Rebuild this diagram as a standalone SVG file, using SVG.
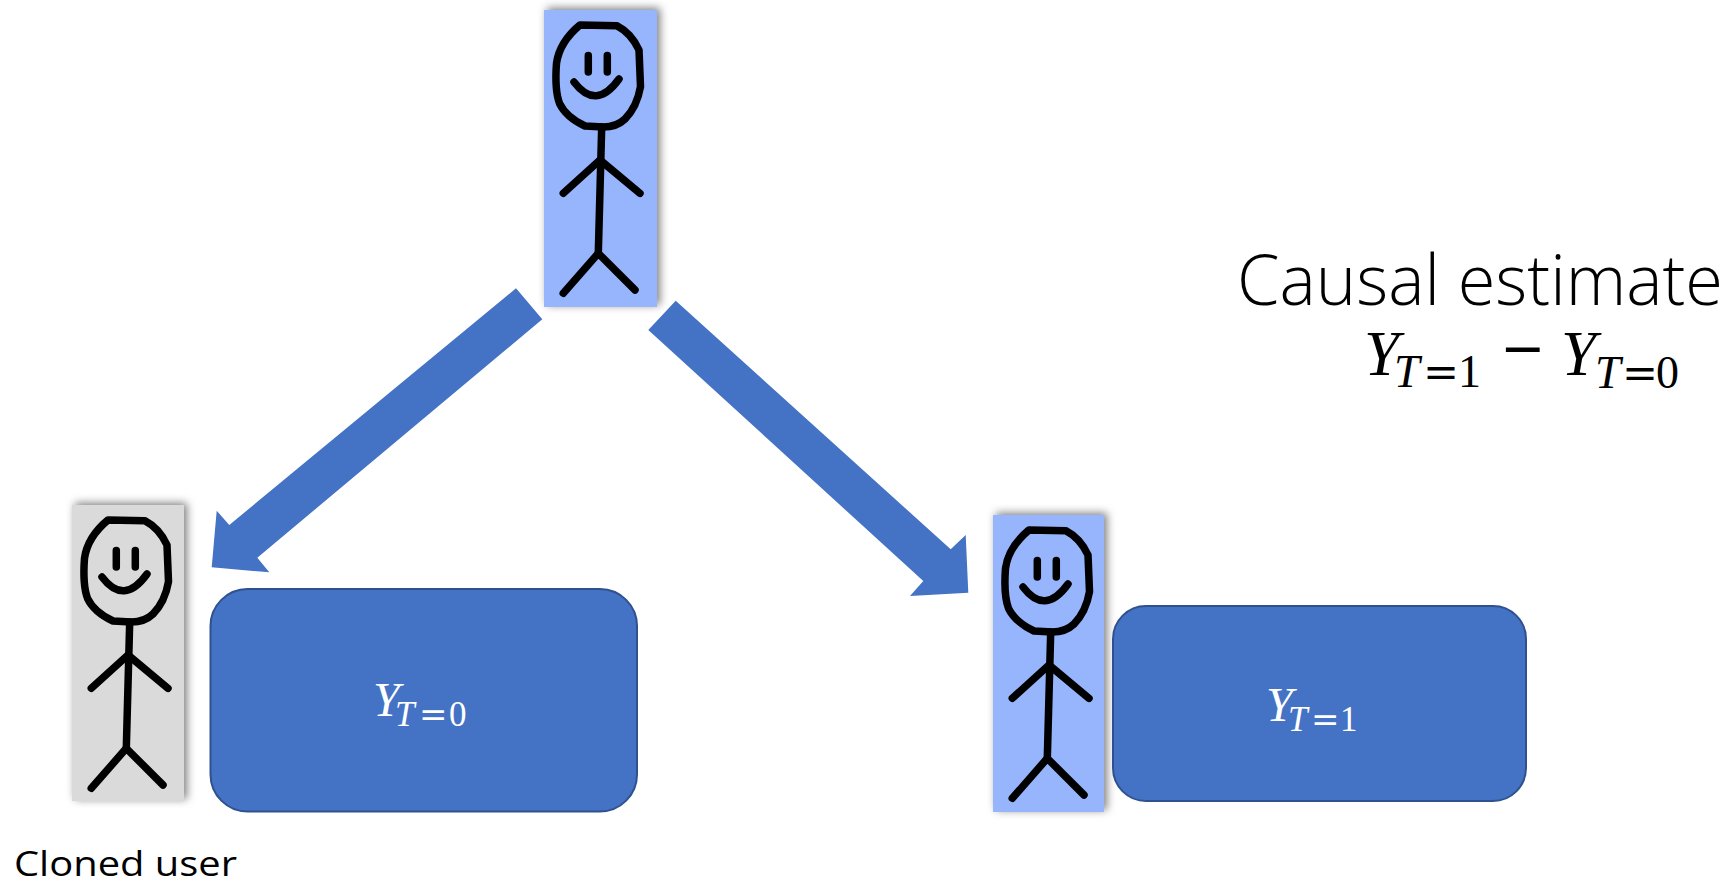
<svg xmlns="http://www.w3.org/2000/svg" xmlns:xlink="http://www.w3.org/1999/xlink" width="1734" height="884" viewBox="0 0 1734 884">
  <style>
    .card-blue { fill: #97B5FC; }
    .card-gray { fill: #DADADA; }
    .stick { fill: none; stroke: #000; stroke-width: 7.5; stroke-linecap: round; stroke-linejoin: round; }
    .outcome { fill: #4472C4; stroke: #2F528F; stroke-width: 2; }
    .arrow { fill: #4472C4; }
    .label { font-family: "Open Sans", "Liberation Sans", sans-serif; fill: #000; }
    .math { font-family: "Liberation Serif", "DejaVu Serif", serif; }
    .mi { font-style: italic; }
    .rel { font-family: "DejaVu Serif", "Liberation Serif", serif; }
  </style>
  <defs>
    <filter id="cardShadow" x="-20%" y="-10%" width="140%" height="120%">
      <feDropShadow dx="3" dy="-2" stdDeviation="4" flood-color="#000" flood-opacity="0.5"/>
    </filter>
    <!-- stick figure, drawn in card-local coordinates (card is ~113 x 297) -->
    <g id="stickFigure">
      <path class="stick" d="M36,15 L72.7,15.7 Q87,23 95,40 L96.5,76.7 Q93,97 81,109 Q72.7,117 59.3,117 L41,116 Q22,107 15.5,93.3 Q10.5,80 12.5,53.3 Q15.5,32 36,15 Z"/>
      <path class="stick" d="M44.3,45.5 L44.3,62 M63.3,45.5 L63.3,62"/>
      <path class="stick" d="M30,72 Q52,101 75,69"/>
      <path class="stick" d="M57.7,117 Q56,180 54.3,243.3"/>
      <path class="stick" d="M19.3,183.3 L56,150 L96,183.3"/>
      <path class="stick" d="M19.3,283.3 L54.3,243.3 L91,280"/>
    </g>
  </defs>

  <rect width="1734" height="884" fill="#fff"/>

  <!-- connectors -->
  <g id="connectors">
    <polygon class="arrow" points="516,288.3 542.3,319.3 257.3,557.7 269.3,572.3 211.7,567.3 216.7,510.7 229.3,525"/>
    <polygon class="arrow" points="675.7,300.7 950.7,549.3 965.7,535 968.3,592.7 910,596 923.3,581 648.3,330"/>
  </g>

  <!-- original user -->
  <g id="user">
    <rect class="card-blue" x="544" y="10" width="113" height="297" filter="url(#cardShadow)"/>
    <use xlink:href="#stickFigure" transform="translate(544,10)"/>
  </g>

  <!-- cloned user (control) -->
  <g id="cloned-user">
    <rect class="card-gray" x="72" y="505" width="112" height="296" filter="url(#cardShadow)"/>
    <use xlink:href="#stickFigure" transform="translate(72,505)"/>
    <text class="label" x="14" y="876" font-size="35" textLength="223" lengthAdjust="spacingAndGlyphs">Cloned user</text>
  </g>

  <!-- treated user -->
  <g id="treated-user">
    <rect class="card-blue" x="993" y="515" width="111" height="297" filter="url(#cardShadow)"/>
    <use xlink:href="#stickFigure" transform="translate(993,515)"/>
  </g>

  <!-- outcome under control -->
  <g id="outcome-t0">
    <rect class="outcome" x="210.5" y="589" width="426.5" height="222.5" rx="37" ry="37"/>
    <text class="math" fill="#fff"><tspan class="mi" x="373" y="716" font-size="48">Y</tspan><tspan class="mi" x="395" y="726" font-size="35">T</tspan><tspan class="rel" x="419" y="726" font-size="34">=</tspan><tspan x="449" y="726" font-size="35">0</tspan></text>
  </g>

  <!-- outcome under treatment -->
  <g id="outcome-t1">
    <rect class="outcome" x="1113" y="606" width="413" height="195" rx="33" ry="33"/>
    <text class="math" fill="#fff"><tspan class="mi" x="1266" y="721" font-size="48">Y</tspan><tspan class="mi" x="1288" y="731" font-size="35">T</tspan><tspan class="rel" x="1311" y="731" font-size="34">=</tspan><tspan x="1340" y="731" font-size="35">1</tspan></text>
  </g>

  <!-- causal estimate caption -->
  <g id="causal-estimate">
    <text class="label" x="1237" y="305" font-size="70" font-weight="300" textLength="486" lengthAdjust="spacingAndGlyphs">Causal estimate</text>
    <text class="math" fill="#000"><tspan class="mi" x="1364" y="375" font-size="63">Y</tspan><tspan class="mi" x="1394" y="387" font-size="46">T</tspan><tspan class="rel" x="1423" y="387" font-size="43">=</tspan><tspan x="1458" y="387" font-size="46">1</tspan><tspan x="1503" y="373" font-size="70" stroke="#000" stroke-width="1.2">−</tspan><tspan class="mi" x="1561" y="375" font-size="63">Y</tspan><tspan class="mi" x="1595" y="388" font-size="46">T</tspan><tspan class="rel" x="1622" y="388" font-size="43">=</tspan><tspan x="1656" y="388" font-size="46">0</tspan></text>
  </g>
</svg>
